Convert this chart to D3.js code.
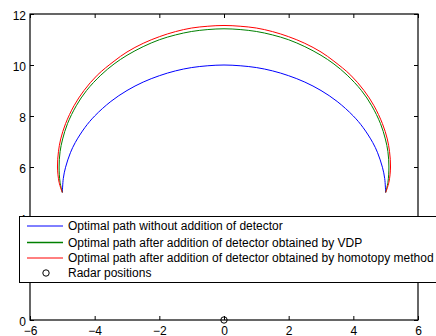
<!DOCTYPE html>
<html>
<head>
<meta charset="utf-8">
<script src="https://cdn.jsdelivr.net/npm/d3@7"></script>
<style>
  body { margin: 0; background: #fff; overflow: hidden; }
  svg { display: block; }
  text { font-family: "Liberation Sans", Arial, sans-serif; font-size: 12px; fill: #000; }
</style>
</head>
<body>
<div id="main"></div>
<script>
// values
var blueX = [-5, -4.97, -4.9, -4.75, -4.6, -4.3, -4, -3.5, -3, -2.5, -2, -1.5, -1, -0.5, 0,
             0.5, 1, 1.5, 2, 2.5, 3, 3.5, 4, 4.3, 4.6, 4.75, 4.9, 4.97, 5];
var blueY = [5, 5.55, 5.99, 6.56, 6.96, 7.55, 8, 8.57, 9, 9.33, 9.58, 9.77, 9.9, 9.97, 10,
             9.97, 9.9, 9.77, 9.58, 9.33, 9, 8.57, 8, 7.55, 6.96, 6.56, 5.99, 5.55, 5];

var greenX = [-5, -5.07, -5.1, -5.07, -4.99, -4.84, -4.57, -4.25, -3.81, -3.4, -3, -2.5, -2, -1.5, -1, -0.5, 0,
              0.5, 1, 1.5, 2, 2.5, 3, 3.4, 3.81, 4.25, 4.57, 4.84, 4.99, 5.07, 5.1, 5.07, 5];
var greenY = [5, 5.4, 6, 6.6, 7.1, 7.7, 8.4, 9, 9.6, 10.04, 10.38, 10.72, 10.99, 11.18, 11.315, 11.39, 11.42,
              11.39, 11.315, 11.18, 10.99, 10.72, 10.38, 10.04, 9.6, 9, 8.4, 7.7, 7.1, 6.6, 6, 5.4, 5];

var redX = [-5, -5.1, -5.15, -5.12, -5.05, -4.9, -4.64, -4.33, -3.92, -3.4, -3, -2.5, -2, -1.5, -1, -0.5, 0,
            0.5, 1, 1.5, 2, 2.5, 3, 3.4, 3.92, 4.33, 4.64, 4.9, 5.05, 5.12, 5.15, 5.1, 5];
var redY = [5, 5.4, 6, 6.6, 7.1, 7.7, 8.4, 9, 9.6, 10.15, 10.51, 10.85, 11.11, 11.31, 11.45, 11.52, 11.55,
            11.52, 11.45, 11.31, 11.11, 10.85, 10.51, 10.15, 9.6, 9, 8.4, 7.7, 7.1, 6.6, 6, 5.4, 5];

var radarX = [0];
var radarY = [0];

var xTicks = [-6, -4, -2, 0, 2, 4, 6];
var yTicks = [0, 2, 4, 6, 8, 10, 12];
var legendLabels = [
  'Optimal path without addition of detector',
  'Optimal path after addition of detector obtained by VDP',
  'Optimal path after addition of detector obtained by homotopy method',
  'Radar positions'
];
var seriesColors = ['#0000ff', '#008000', '#ff0000'];

var W = 436, H = 336;
var margins = { top: 14, bottom: 16, left: 30, right: 18 };
var width = W - margins.left - margins.right, height = H - margins.top - margins.bottom;

var x = d3.scaleLinear().domain([-6, 6]).range([0, width]);
var y = d3.scaleLinear().domain([0, 12]).range([height, 0]);

var svg = d3.select('#main').append('svg')
    .attr('width', W).attr('height', H);
var chart = svg.append('g')
    .attr('transform', 'translate(' + margins.left + ',' + margins.top + ')');

var fmt = function(d) { return d < 0 ? '\u2212' + Math.abs(d) : String(d); };

// axes, ticks pointing inwards on all four sides
var tickLen = 4;
var xb = chart.append('g').attr('transform', 'translate(0,' + height + ')')
    .call(d3.axisBottom(x).tickValues(xTicks).tickSizeInner(-tickLen).tickSizeOuter(0).tickPadding(0).tickFormat(fmt));
var xt = chart.append('g')
    .call(d3.axisTop(x).tickValues(xTicks).tickSizeInner(-tickLen).tickSizeOuter(0).tickFormat(''));
var yl = chart.append('g')
    .call(d3.axisLeft(y).tickValues(yTicks).tickSizeInner(-tickLen).tickSizeOuter(0).tickPadding(4).tickFormat(fmt));
var yr = chart.append('g').attr('transform', 'translate(' + width + ',0)')
    .call(d3.axisRight(y).tickValues(yTicks).tickSizeInner(-tickLen).tickSizeOuter(0).tickFormat(''));

[xb, xt, yl, yr].forEach(function(a) {
  a.selectAll('.domain').remove();
  a.selectAll('line').attr('stroke', '#000').attr('stroke-width', 1);
  a.selectAll('text').attr('font-family', '"Liberation Sans", Arial, sans-serif')
    .attr('font-size', 12).attr('fill', '#000');
});
xb.selectAll('text').attr('y', 15.3).attr('dy', null);
yl.selectAll('text').attr('dy', '0.45em');

chart.append('rect')
    .attr('x', 0).attr('y', 0).attr('width', width).attr('height', height)
    .attr('fill', 'none').attr('stroke', '#000').attr('stroke-width', 1.2);

var line = d3.line()
    .x(function(d) { return x(d[0]); })
    .y(function(d) { return y(d[1]); })
    .curve(d3.curveCatmullRom.alpha(0.5));

var series = [
  d3.zip(blueX, blueY),
  d3.zip(greenX, greenY),
  d3.zip(redX, redY)
];

series.forEach(function(s, i) {
  chart.append('path')
      .datum(s)
      .attr('d', line)
      .attr('fill', 'none')
      .attr('stroke', seriesColors[i])
      .attr('stroke-width', 1);
});

chart.selectAll('.radar').data(d3.zip(radarX, radarY))
  .enter().append('circle')
    .attr('class', 'radar')
    .attr('cx', function(d) { return x(d[0]); })
    .attr('cy', function(d) { return y(d[1]); })
    .attr('r', 3.2)
    .attr('fill', 'none').attr('stroke', '#000').attr('stroke-width', 1);

// legend
var legend = svg.append('g').attr('transform', 'translate(19.5,216.5)');
legend.append('rect')
    .attr('x', 0).attr('y', 0).attr('width', 440).attr('height', 66)
    .attr('fill', '#fff').attr('stroke', '#000').attr('stroke-width', 1);

var rowY = [9.5, 26, 41.5, 56.5];
legendLabels.forEach(function(lbl, i) {
  if (i < 3) {
    legend.append('line')
        .attr('x1', 7.5).attr('x2', 43.5)
        .attr('y1', rowY[i]).attr('y2', rowY[i])
        .attr('stroke', seriesColors[i]).attr('stroke-width', i == 1 ? 1.5 : 1);
  } else {
    legend.append('circle')
        .attr('cx', 26.5).attr('cy', rowY[i]).attr('r', 3.2)
        .attr('fill', 'none').attr('stroke', '#000').attr('stroke-width', 1);
  }
  legend.append('text')
      .attr('x', 48.5).attr('y', rowY[i]).attr('dy', '0.35em')
      .text(lbl);
});
</script>
</body>
</html>
